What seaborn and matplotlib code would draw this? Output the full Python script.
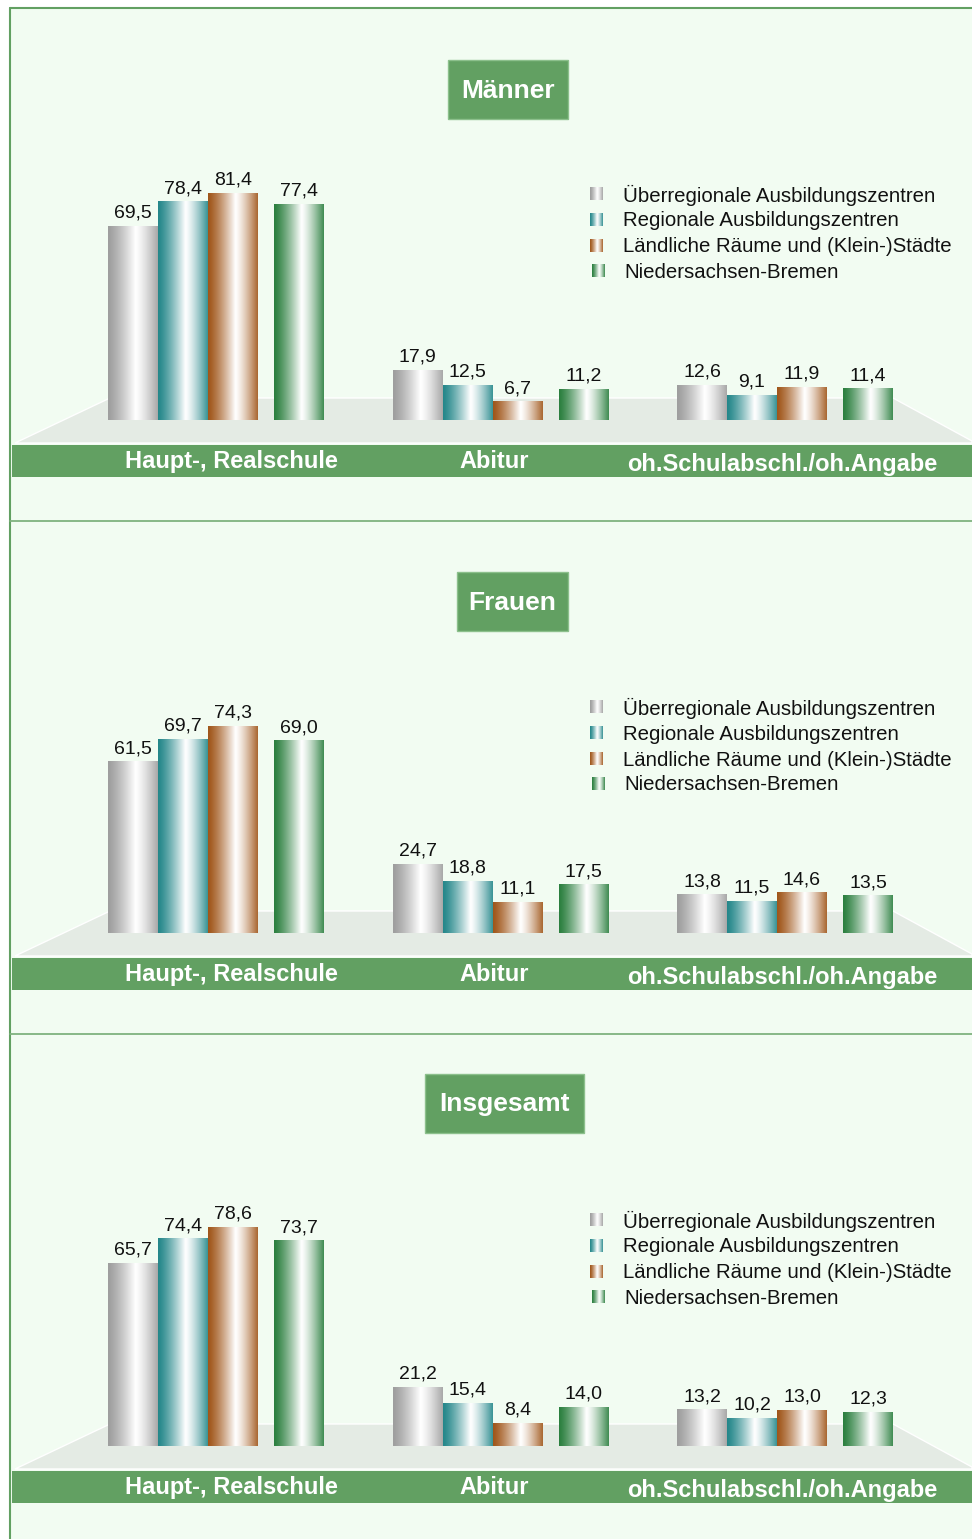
import numpy as np
import pandas as pd
import matplotlib
matplotlib.use("Agg")
import matplotlib.pyplot as plt
import seaborn as sns
from matplotlib.patches import Rectangle, Polygon
from matplotlib.colors import to_rgb

schulabschluss = ["Haupt-, Realschule", "Abitur", "oh.Schulabschl./oh.Angabe"]
regionen = ["Überregionale Ausbildungszentren", "Regionale Ausbildungszentren",
            "Ländliche Räume und (Klein-)Städte", "Niedersachsen-Bremen"]
farben = ["#9e9e9e", "#24878a", "#a0561a", "#2b7f3f"]

# one list per region: Haupt-/Realschule, Abitur, ohne Abschluss
maenner_werte = [[69.5, 17.9, 12.6], [78.4, 12.5, 9.1], [81.4, 6.7, 11.9], [77.4, 11.2, 11.4]]
frauen_werte = [[61.5, 24.7, 13.8], [69.7, 18.8, 11.5], [74.3, 11.1, 14.6], [69.0, 17.5, 13.5]]
insgesamt_werte = [[65.7, 21.2, 13.2], [74.4, 15.4, 10.2], [78.6, 8.4, 13.0], [73.7, 14.0, 12.3]]

titel = ["Männer", "Frauen", "Insgesamt"]

sns.set_style("white")
plt.rcParams["font.family"] = ["Liberation Sans", "DejaVu Sans"]

W, H = 972, 1539
GRUEN = "#62a062"
fig = plt.figure(figsize=(W / 100, H / 100), dpi=100)
fig.patch.set_facecolor("white")

# background axes in pixel coordinates
bg = fig.add_axes([0, 0, 1, 1])
bg.set_xlim(0, W)
bg.set_ylim(H, 0)
bg.axis("off")


def verlauf(farbe, n=120):
    t = np.linspace(0, 1, n)
    p = 0.55
    w = np.where(t < p, (t / p) ** 1.3, 1 - 0.9 * ((t - p) / (1 - p)) ** 1.3)
    base = np.array(to_rgb(farbe))
    rgb = base[None, :] * (1 - w[:, None]) + w[:, None]
    return rgb[None, :, :]


bg.add_patch(Rectangle((10, 8), W - 10, H - 8, fc="#f2fcf2", ec="none", zorder=0))
bg.plot([10, 10], [8, H], color=GRUEN, lw=1.5, zorder=1)
bg.plot([10, W], [8, 8], color=GRUEN, lw=1.5, zorder=1)
for y in [521, 1034]:
    bg.plot([10, W], [y, y], color="#7fb27f", lw=1.3, zorder=1)

titel_boxen = [(448, 60, 120, 59), (457, 572, 111, 59), (425, 1074, 159, 59)]
label_x = [231, 494, 782]
px_pro_einheit = 2.79
ax_hoehe = 300

for i, (werte, name) in enumerate(zip([maenner_werte, frauen_werte, insgesamt_werte], titel)):
    b = 420 + 513 * i

    # floor and category band
    bg.add_patch(Polygon([(15, b + 23), (110, b - 22), (893, b - 22), (W, b + 21), (W, b + 23)],
                         closed=True, fc="#e4ebe4", ec="white", lw=1, zorder=2))
    bg.add_patch(Rectangle((12, b + 25), W - 12, 32, fc=GRUEN, ec="none", zorder=2))
    for k, (lab, lx) in enumerate(zip(schulabschluss, label_x)):
        bg.text(lx, b + (51 if k == 2 else 48), lab, color="white", fontsize=17,
                fontweight="bold", ha="center", va="baseline", zorder=3)

    # title box
    x0, y0, bw, bh = titel_boxen[i]
    bg.add_patch(Rectangle((x0, y0), bw, bh, fc=GRUEN, ec="#8cc08c", lw=1, zorder=2))
    bg.text(x0 + bw / 2, y0 + bh / 2 + 1, name, color="white", fontsize=19,
            fontweight="bold", ha="center", va="center", zorder=3)

    # legend
    for k, (reg, f) in enumerate(zip(regionen, farben)):
        ly = 194 + 513 * i + 26 * k - (1 if k == 3 else 0)
        mx = 592 if k == 3 else 590
        bg.imshow(verlauf(f, 40), extent=[mx, mx + 13, ly + 6.5, ly - 6.5],
                  aspect="auto", zorder=3, interpolation="bilinear")
        bg.text(623 if k < 3 else 624, ly + 1, reg, fontsize=14.7, color="#111111",
                ha="left", va="center", zorder=3)

    # bars
    rows = []
    for reg, reihe in zip(regionen, werte):
        for abschl, v in zip(schulabschluss, reihe):
            rows.append({"Schulabschluss": abschl, "Region": reg, "Anteil": v})
    df = pd.DataFrame(rows)

    ax = fig.add_axes([0, (H - b) / H, 1, ax_hoehe / H], zorder=2)
    ax.patch.set_alpha(0)
    sns.barplot(data=df, x="Schulabschluss", y="Anteil", hue="Region",
                order=schulabschluss, hue_order=regionen, palette=farben,
                saturation=1, width=200 / 284.5, errorbar=None, legend=False, ax=ax)
    luecke = 16 / 284.5
    for bar in ax.containers[3]:
        bar.set_x(bar.get_x() + luecke)
    for c, f in zip(ax.containers, farben):
        grad = verlauf(f)
        for bar in c:
            bar.set_edgecolor("none")
            bx, by = bar.get_x(), bar.get_y()
            im = ax.imshow(grad, extent=[bx, bx + bar.get_width(), by, by + bar.get_height()],
                           aspect="auto", zorder=3, interpolation="bilinear")
            im.set_clip_path(bar)
        ax.bar_label(c, labels=[f"{v:.1f}".replace(".", ",") for v in c.datavalues],
                     padding=3, fontsize=14, color="#111111")
    ax.set_xlim(-208 / 284.5, (W - 208) / 284.5)
    ax.set_ylim(0, ax_hoehe / px_pro_einheit)
    ax.axis("off")

bg.set_xlim(0, W)
bg.set_ylim(H, 0)
fig.savefig("out.png", dpi=100, facecolor="white")
